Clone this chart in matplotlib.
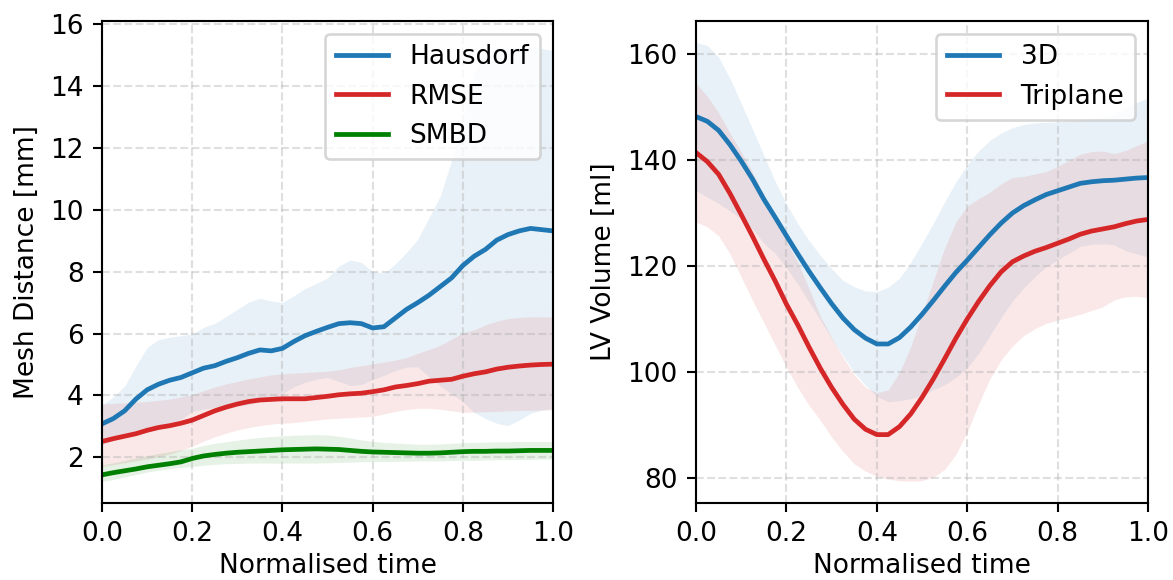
import matplotlib
matplotlib.use('Agg')
import matplotlib.pyplot as plt
import numpy as np

# normalised time, 41 samples over the cycle
t = np.linspace(0, 1, 41)

# --- mesh distance [mm] ---
hausdorf_mean = [3.08, 3.25, 3.50, 3.88, 4.18, 4.36, 4.49, 4.58, 4.73, 4.88, 4.96,
                 5.10, 5.22, 5.36, 5.47, 5.44, 5.52, 5.74, 5.93, 6.07, 6.20,
                 6.32, 6.35, 6.32, 6.18, 6.22, 6.50, 6.78, 7.00, 7.24, 7.52,
                 7.80, 8.20, 8.50, 8.72, 9.02, 9.20, 9.32, 9.40, 9.36, 9.32]
hausdorf_hi = [3.69, 3.95, 4.30, 4.95, 5.55, 5.80, 5.88, 5.93, 5.98, 6.20, 6.33,
               6.55, 6.78, 7.02, 7.14, 7.05, 7.00, 7.22, 7.45, 7.62, 7.80,
               8.18, 8.38, 8.30, 8.00, 7.95, 8.25, 8.62, 9.05, 9.75, 10.45,
               11.6, 12.9, 14.4, 15.1, 15.25, 15.25, 15.25, 15.25, 15.22, 15.15]
hausdorf_lo = [2.40, 2.55, 2.70, 2.80, 2.85, 2.92, 3.10, 3.23, 3.48, 3.56, 3.60,
               3.65, 3.66, 3.70, 3.80, 3.83, 4.05, 4.28, 4.42, 4.52, 4.58,
               4.45, 4.32, 4.35, 4.52, 4.65, 4.80, 4.92, 4.92, 4.60, 4.30,
               4.05, 3.80, 3.45, 3.25, 3.10, 3.02, 3.20, 3.42, 3.52, 3.58]

rmse_mean = [2.51, 2.60, 2.68, 2.76, 2.87, 2.96, 3.02, 3.10, 3.20, 3.35, 3.50,
             3.62, 3.72, 3.80, 3.85, 3.87, 3.89, 3.89, 3.89, 3.93, 3.97,
             4.02, 4.05, 4.07, 4.12, 4.18, 4.27, 4.32, 4.38, 4.46, 4.49,
             4.52, 4.62, 4.70, 4.76, 4.85, 4.91, 4.95, 4.98, 5.00, 5.01]
rmse_hi = [3.72, 3.74, 3.76, 3.78, 3.80, 3.84, 3.88, 3.95, 4.02, 4.15, 4.27,
           4.37, 4.45, 4.53, 4.60, 4.66, 4.70, 4.72, 4.74, 4.76, 4.78,
           4.83, 4.90, 4.96, 5.02, 5.08, 5.14, 5.22, 5.36, 5.48, 5.62,
           5.82, 6.02, 6.12, 6.28, 6.40, 6.48, 6.52, 6.54, 6.54, 6.54]
rmse_lo = [1.70, 1.76, 1.82, 1.88, 1.94, 2.02, 2.10, 2.22, 2.36, 2.52, 2.66,
           2.78, 2.88, 2.96, 3.02, 3.07, 3.10, 3.12, 3.16, 3.20, 3.24,
           3.26, 3.28, 3.30, 3.32, 3.40, 3.48, 3.54, 3.58, 3.58, 3.55,
           3.50, 3.45, 3.46, 3.47, 3.48, 3.50, 3.51, 3.52, 3.53, 3.53]

smbd_mean = [1.43, 1.50, 1.56, 1.62, 1.69, 1.74, 1.79, 1.85, 1.96, 2.04, 2.09,
             2.13, 2.16, 2.18, 2.20, 2.22, 2.24, 2.25, 2.26, 2.27, 2.26,
             2.25, 2.22, 2.19, 2.17, 2.16, 2.15, 2.14, 2.13, 2.13, 2.14,
             2.16, 2.18, 2.19, 2.19, 2.20, 2.20, 2.21, 2.22, 2.22, 2.22]
smbd_hi = [1.75, 1.82, 1.90, 1.98, 2.05, 2.12, 2.18, 2.24, 2.29, 2.38, 2.45,
           2.50, 2.55, 2.60, 2.64, 2.67, 2.69, 2.71, 2.72, 2.73, 2.72,
           2.68, 2.62, 2.56, 2.51, 2.48, 2.46, 2.44, 2.42, 2.42, 2.43,
           2.45, 2.47, 2.48, 2.49, 2.50, 2.50, 2.51, 2.51, 2.51, 2.51]
smbd_lo = [1.21, 1.28, 1.36, 1.44, 1.52, 1.58, 1.63, 1.67, 1.70, 1.74, 1.77,
           1.79, 1.80, 1.81, 1.81, 1.81, 1.81, 1.81, 1.81, 1.81, 1.82,
           1.83, 1.84, 1.85, 1.86, 1.86, 1.87, 1.87, 1.88, 1.88, 1.88,
           1.89, 1.90, 1.90, 1.91, 1.92, 1.92, 1.93, 1.93, 1.94, 1.94]

# --- LV volume [ml] ---
vol3d_mean = [148.1, 147.2, 145.5, 142.8, 139.7, 136.3, 132.5, 129.1, 125.6, 122.2, 118.9,
              115.8, 112.8, 110.1, 107.9, 106.3, 105.2, 105.2, 106.4, 108.4, 110.8,
              113.4, 116.1, 118.7, 121.0, 123.4, 125.8, 128.0, 129.9, 131.3, 132.4,
              133.4, 134.1, 134.8, 135.5, 135.8, 136.0, 136.1, 136.3, 136.5, 136.6]
vol3d_hi = [162.1, 161.5, 159.3, 155.3, 150.6, 145.7, 140.8, 135.9, 131.6, 127.9, 124.7,
            121.9, 119.4, 117.2, 116.0, 115.2, 115.1, 115.9, 117.6, 120.6, 124.2,
            128.0, 132.0, 135.8, 139.0, 141.6, 143.6, 145.0, 146.0, 146.6, 146.9,
            147.0, 147.1, 147.3, 147.4, 147.6, 147.9, 148.3, 149.8, 150.8, 151.6]
vol3d_lo = [134.1, 132.9, 131.7, 130.3, 128.8, 126.9, 124.2, 122.3, 119.6, 116.5, 113.1,
            109.7, 106.2, 103.0, 99.8, 97.4, 95.3, 94.3, 94.5, 94.9, 95.5,
            96.6, 97.5, 98.9, 100.7, 103.4, 106.8, 110.2, 113.3, 115.8, 117.9,
            119.8, 121.1, 122.3, 123.6, 124.0, 124.1, 123.9, 122.8, 122.2, 121.6]

triplane_mean = [141.3, 139.6, 137.2, 133.6, 129.6, 125.5, 121.2, 117.1, 112.7, 108.8, 104.6,
                 100.6, 97.0, 93.8, 91.0, 89.1, 88.1, 88.1, 89.6, 92.0, 95.1,
                 98.6, 102.4, 106.3, 109.9, 113.2, 116.2, 118.8, 120.7, 121.8, 122.7,
                 123.4, 124.2, 125.0, 125.9, 126.5, 126.9, 127.3, 127.9, 128.4, 128.7]
triplane_hi = [154.4, 151.9, 148.8, 145.0, 141.4, 137.6, 133.2, 129.2, 124.6, 120.6, 115.6,
               110.4, 106.4, 102.7, 99.4, 97.0, 96.0, 96.5, 99.8, 104.7, 110.8,
               117.1, 123.3, 128.2, 131.2, 132.6, 133.8, 135.4, 136.6, 136.8, 137.3,
               137.7, 138.7, 139.8, 141.0, 141.5, 141.6, 141.1, 141.7, 142.6, 143.5]
triplane_lo = [128.2, 127.3, 125.6, 122.2, 117.8, 113.4, 109.2, 105.0, 100.8, 97.0, 93.6,
               90.8, 87.6, 84.9, 82.6, 81.2, 80.2, 79.7, 79.4, 79.3, 79.4,
               80.1, 81.5, 84.4, 88.6, 93.8, 98.6, 102.2, 104.8, 106.8, 108.1,
               109.1, 109.7, 110.2, 110.8, 111.5, 112.2, 113.5, 114.1, 114.2, 113.9]


def band(ax, mean, lo, hi, color, label):
    ax.fill_between(t, lo, hi, color=color, alpha=0.1, linewidth=0)
    ax.plot(t, mean, color=color, linewidth=1.8, label=label)


def style(ax, ylabel):
    ax.grid(True, linestyle='--', alpha=0.4)
    ax.set_xlim(0, 1)
    ax.set_xlabel('Normalised time', labelpad=2)
    ax.set_ylabel(ylabel)
    ax.legend(loc='upper right')


fig = plt.figure(figsize=(1173 / 190, 580 / 190), dpi=190)

# left: mesh distance metrics
ax = fig.add_axes([0.0870, 0.1328, 0.3845, 0.8316])
band(ax, hausdorf_mean, hausdorf_lo, hausdorf_hi, '#1f77b4', 'Hausdorf')
band(ax, rmse_mean, rmse_lo, rmse_hi, '#d62728', 'RMSE')
band(ax, smbd_mean, smbd_lo, smbd_hi, 'green', 'SMBD')
ax.set_ylim(0.52, 16.12)
ax.set_yticks(np.arange(2, 17, 2))
style(ax, 'Mesh Distance [mm]')

# right: LV volume curves
ax = fig.add_axes([0.5934, 0.1328, 0.3853, 0.8316])
band(ax, vol3d_mean, vol3d_lo, vol3d_hi, '#1f77b4', '3D')
band(ax, triplane_mean, triplane_lo, triplane_hi, '#d62728', 'Triplane')
ax.set_ylim(75.2, 166.2)
ax.set_yticks(np.arange(80, 161, 20))
style(ax, 'LV Volume [ml]')

fig.savefig('out.png', dpi=190)
